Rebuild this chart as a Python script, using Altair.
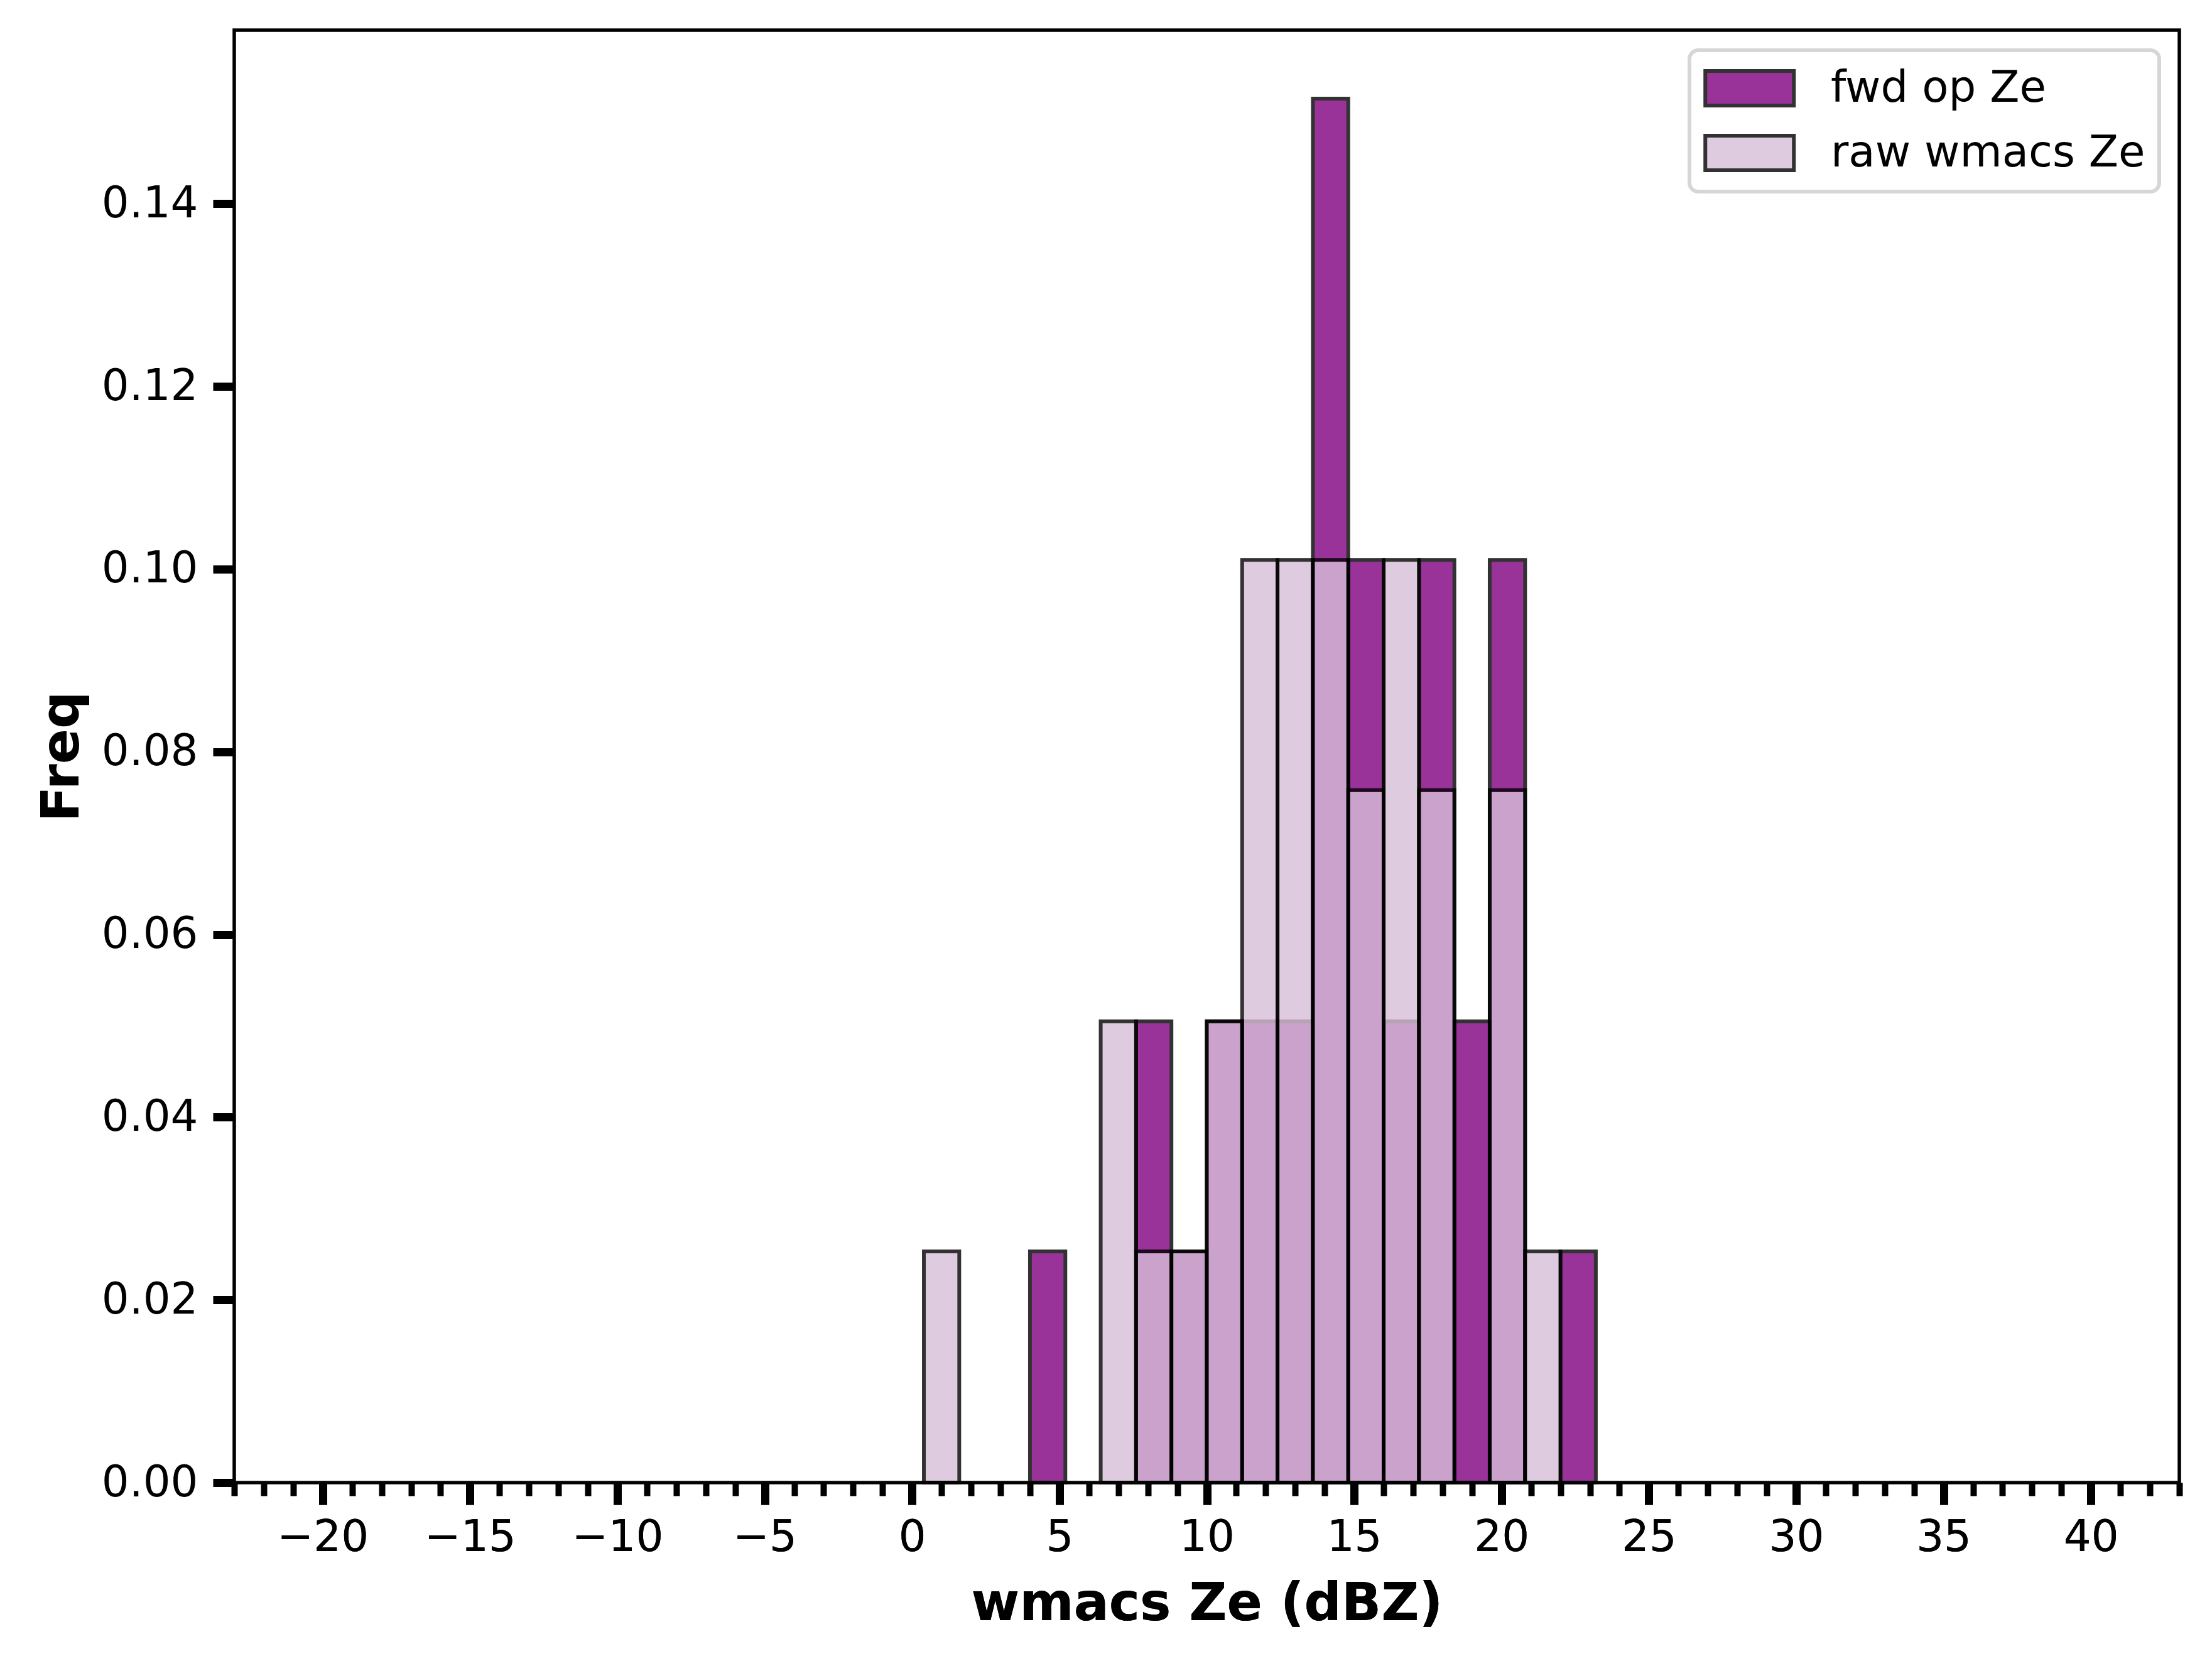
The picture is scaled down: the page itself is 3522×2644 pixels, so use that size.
import altair as alt
import pandas as pd

# ---- data ----
BIN_WIDTH = 1.2
series_names = ["fwd op Ze", "raw wmacs Ze"]
series_colors = ["purple", "thistle"]

fwd_lo = [4.0, 7.6, 8.8, 10.0, 11.2, 12.4, 13.6, 14.8, 16.0, 17.2, 18.4, 19.6, 22.0]
fwd_freq = [0.0253, 0.0505, 0.0253, 0.0505, 0.0505, 0.0505, 0.1515, 0.1010,
            0.0505, 0.1010, 0.0505, 0.1010, 0.0253]

raw_lo = [0.4, 6.4, 7.6, 8.8, 10.0, 11.2, 12.4, 13.6, 14.8, 16.0, 17.2, 19.6, 20.8]
raw_freq = [0.0253, 0.0505, 0.0253, 0.0253, 0.0505, 0.1010, 0.1010, 0.1010,
            0.0758, 0.1010, 0.0758, 0.0758, 0.0253]

x_major_ticks = [-20, -15, -10, -5, 0, 5, 10, 15, 20, 25, 30, 35, 40]
x_minor_ticks = [v for v in range(-23, 44) if v % 5 != 0]
y_ticks = [0.0, 0.02, 0.04, 0.06, 0.08, 0.10, 0.12, 0.14]
x_domain = [-23, 43]
y_domain = [0, 0.159]

rows = []
for name, los, fs in [(series_names[0], fwd_lo, fwd_freq),
                      (series_names[1], raw_lo, raw_freq)]:
    for lo, f in zip(los, fs):
        rows.append({"series": name, "lo": lo, "hi": round(lo + BIN_WIDTH, 3), "freq": f})
df = pd.DataFrame(rows)

FONT = "DejaVu Sans"
xscale = alt.Scale(domain=x_domain, nice=False, zero=False)
yscale = alt.Scale(domain=y_domain, nice=False, zero=True)

color = alt.Color(
    "series:N",
    scale=alt.Scale(domain=series_names, range=series_colors),
    legend=alt.Legend(
        title=None, orient="top-right", offset=32,
        symbolType="M-1,-0.78H3V0.78H-1Z", symbolSize=4970,
        symbolStrokeColor="black", symbolStrokeWidth=6, symbolOpacity=0.8,
        labelFont=FONT, labelFontSize=69, labelColor="black", labelOffset=126,
        labelLimit=2000, rowPadding=24, padding=22,
        fillColor="white", strokeColor="#d6d6d6", cornerRadius=14,
    ),
)

x_major_axis = alt.Axis(
    values=x_major_ticks, title="wmacs Ze (dBZ)", orient="bottom",
    labelFont=FONT, labelFontSize=69, labelColor="black", labelPadding=18,
    tickSize=35, tickWidth=13, tickColor="black", domain=False, grid=False,
    titleFont=FONT, titleFontSize=83, titleFontWeight="bold", titleColor="black",
    titlePadding=30, labelFlush=False, labelOverlap=False,
)
x_minor_axis = alt.Axis(
    values=x_minor_ticks, title=None, orient="bottom", labels=False,
    tickSize=21, tickWidth=10, tickColor="black", domain=False, grid=False,
)
y_axis = alt.Axis(
    values=y_ticks, format=".2f", title="Freq",
    labelFont=FONT, labelFontSize=69, labelColor="black", labelPadding=24,
    tickSize=34, tickWidth=13, tickColor="black", domain=False, grid=False,
    titleFont=FONT, titleFontSize=83, titleFontWeight="bold", titleColor="black",
    titlePadding=32,
)

base = alt.Chart(df)


def bars(series, x_axis, opacity):
    src = base if series is None else base.transform_filter(alt.datum.series == series)
    enc = dict(
        x=alt.X("lo:Q", scale=xscale, axis=x_axis),
        x2="hi:Q",
        y=alt.Y("freq:Q", scale=yscale, axis=y_axis),
        y2=alt.datum(0),
    )
    if series is not None:
        enc["color"] = color
    return src.mark_rect(opacity=opacity, stroke="black", strokeWidth=6).encode(**enc)


fwd = bars(series_names[0], x_major_axis, 0.8)
raw = bars(series_names[1], x_major_axis, 0.8)
minor = bars(None, x_minor_axis, 0)

chart = alt.layer(fwd, raw, minor).resolve_axis(x="independent").properties(
    width=3097,
    height=2312,
    autosize=alt.AutoSizeParams(type="none"),
    padding={"left": 365, "top": 40, "right": 40, "bottom": 250},
    background="white",
).configure_view(
    stroke="black", strokeWidth=5.5
).configure_legend(
    strokeWidth=6
)

chart.save("out.html", embed_options={"renderer": "svg", "actions": False})
